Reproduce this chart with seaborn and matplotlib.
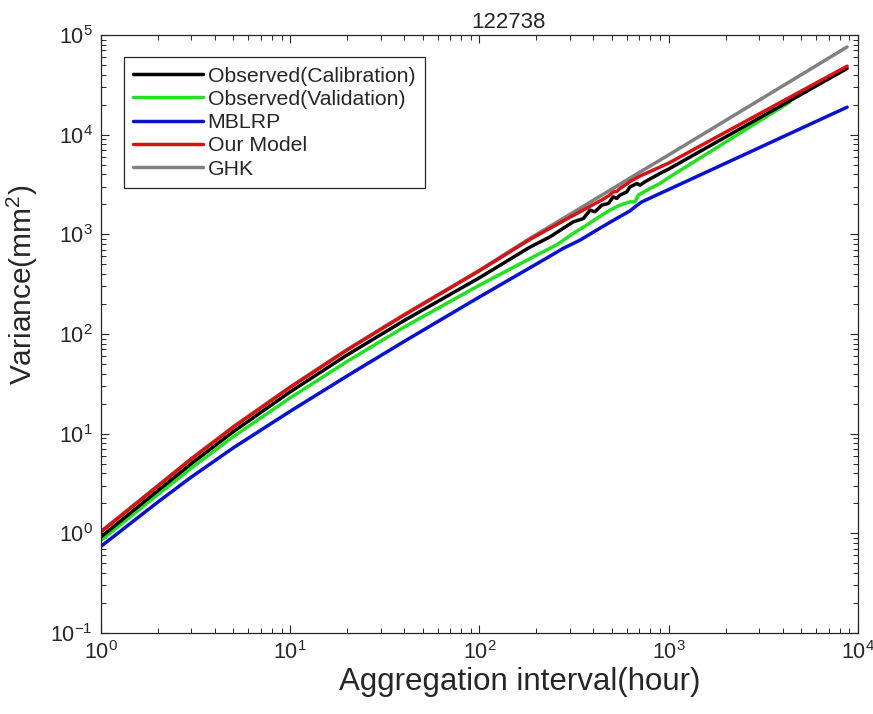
import matplotlib
matplotlib.use("Agg")
import matplotlib.pyplot as plt
from matplotlib.lines import Line2D
import pandas as pd
import seaborn as sns

# Observed variance of the calibration period
calib_hours = [1, 2, 3, 5, 10, 20, 40, 100, 185, 236, 313, 354, 384, 407, 443,
               480, 509, 531, 552, 600, 624, 678, 705, 748, 899, 1000, 8760]
calib_var = [0.923, 2.69, 5.01, 10.47, 26.3, 61.7, 136.5, 367, 745, 944, 1334,
             1442, 1750, 1683, 1963, 2042, 2377, 2291, 2472, 2667, 2992, 3236,
             3112, 3365, 4083, 4519, 46130]

# Observed variance of the validation period
valid_hours = [1, 2, 3, 5, 10, 20, 40, 100, 200, 256, 313, 368, 416, 443, 490,
               552, 624, 664, 690, 796, 899, 1000, 4380]
valid_var = [0.851, 2.455, 4.52, 9.33, 22.9, 53.1, 117.5, 309, 617, 785, 1023,
             1236, 1442, 1560, 1750, 1963, 2118, 2118, 2472, 2884, 3236, 3715,
             21330]

# MBLRP model
mblrp_hours = [1, 2, 3, 5, 10, 20, 40, 100, 217, 277, 340, 416, 509, 624, 664,
               690, 720, 899, 1000, 8760]
mblrp_var = [0.741, 2.065, 3.67, 7.21, 16.8, 38.0, 84.3, 235.5, 551, 723, 875,
             1102, 1380, 1718, 1890, 1995, 2113, 2570, 2818, 18880]

# Our model
model_hours = [1, 2, 3, 5, 10, 20, 40, 100, 185, 313, 400, 443, 480, 509, 531,
               552, 600, 624, 705, 899, 1000, 8760]
model_var = [1.035, 2.985, 5.56, 11.61, 29.2, 69.2, 154.9, 431.5, 891, 1549,
             1995, 2213, 2427, 2661, 2692, 2884, 3199, 3388, 3846, 4732, 5188,
             48640]

# GHK model
ghk_hours = [1, 2, 3, 5, 10, 20, 40, 100, 185, 313, 705, 1000, 8760]
ghk_var = [1.047, 3.02, 5.62, 11.75, 29.5, 70.0, 156.7, 436.5, 912, 1660, 4217,
           6266, 75860]

legend_order = ["Observed(Calibration)", "Observed(Validation)", "MBLRP",
                "Our Model", "GHK"]
draw_order = ["GHK", "Observed(Validation)", "MBLRP", "Observed(Calibration)",
              "Our Model"]
colors = {
    "Observed(Calibration)": "#000000",
    "Observed(Validation)": "#22E022",
    "MBLRP": "#0A12CC",
    "Our Model": "#D41414",
    "GHK": "#808080",
}

series = {
    "Observed(Calibration)": (calib_hours, calib_var),
    "Observed(Validation)": (valid_hours, valid_var),
    "MBLRP": (mblrp_hours, mblrp_var),
    "Our Model": (model_hours, model_var),
    "GHK": (ghk_hours, ghk_var),
}
df = pd.concat(
    [pd.DataFrame({"hours": h, "variance": v, "series": name})
     for name, (h, v) in series.items()],
    ignore_index=True,
)

sns.set_theme(style="ticks")
plt.rcParams.update({
    "font.family": ["Liberation Sans", "DejaVu Sans"],
    "mathtext.fontset": "custom",
    "mathtext.rm": "Liberation Sans",
    "mathtext.it": "Liberation Sans:italic",
    "mathtext.default": "regular",
    "axes.edgecolor": "#262626",
    "axes.linewidth": 0.9,
})

fig = plt.figure(figsize=(8.73, 7.14), dpi=100)
ax = fig.add_axes([0.1157, 0.1134, 0.8671, 0.8376])
ax.set_xscale("log")
ax.set_yscale("log")

sns.lineplot(data=df, x="hours", y="variance", hue="series",
             hue_order=draw_order, palette=colors, estimator=None,
             sort=True, linewidth=2.5, legend=False, ax=ax)

ax.set_xlim(1, 1e4)
ax.set_ylim(0.1, 1e5)

ax.tick_params(which="both", direction="in", top=True, right=True,
               colors="#262626", labelcolor="#262626")
ax.tick_params(which="major", length=6, width=0.8, labelsize=15.5, pad=6)
ax.tick_params(which="minor", length=3.5, width=0.7)

ax.set_title("122738", fontsize=16, color="#262626", pad=5, x=0.538)
ax.set_xlabel("Aggregation interval(hour)", fontsize=22.5, color="#262626")
ax.set_ylabel("Variance(mm$^2$)", fontsize=21.5, color="#262626")
ax.xaxis.set_label_coords(0.553, -0.057)
ax.yaxis.set_label_coords(-0.080, 0.582)

handles = [Line2D([0], [0], color=colors[n], lw=2.5) for n in legend_order]
leg = ax.legend(handles, legend_order, loc="upper left",
                bbox_to_anchor=(0.030, 0.963), borderaxespad=0, fontsize=15.3,
                handlelength=3.3, handletextpad=0.2, labelspacing=0.2,
                borderpad=0.45, frameon=True, fancybox=False, framealpha=1,
                edgecolor="#262626")
leg.get_frame().set_linewidth(0.9)

fig.savefig("out.png", dpi=100, facecolor="white")
